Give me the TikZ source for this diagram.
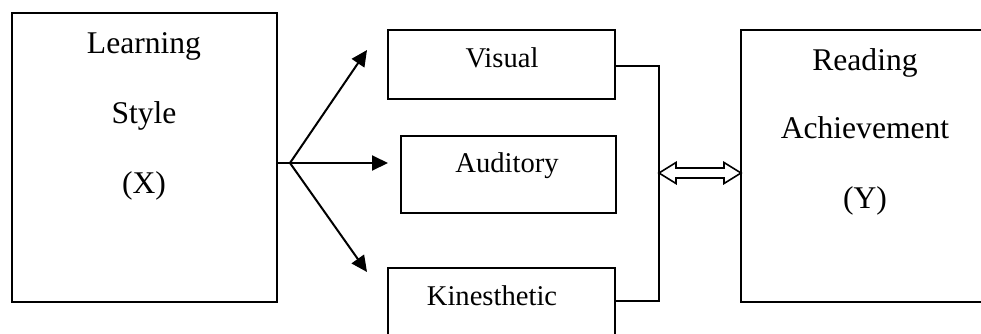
\documentclass[tikz,border=0pt]{standalone}
\usepackage{fontspec}
\setmainfont{Liberation Serif}
\usetikzlibrary{arrows.meta,calc}
\begin{document}
\begin{tikzpicture}[x=0.5pt,y=-0.5pt,
  box/.style={draw,line width=1pt,inner sep=0pt,outer sep=0pt},
  big/.style={anchor=base,inner sep=0pt,font=\fontsize{15.8}{18}\selectfont},
  small/.style={anchor=base,inner sep=0pt,font=\fontsize{14.3}{17}\selectfont},
  link/.style={line width=1pt},
  arr/.style={line width=1pt,-{Triangle[length=8pt,width=7.5pt]}}]
\useasboundingbox (0,0) rectangle (981,333);
\clip (0,0) rectangle (981,333);
% boxes
\node[box,minimum width=132.5pt,minimum height=144.5pt] (X) at (144.5,157.5) {};
\node[box,minimum width=130pt,minimum height=136pt] (Y) at (871,166) {};
\node[box,minimum width=113.5pt,minimum height=34.5pt] (V) at (501.5,64.5) {};
\node[box,minimum width=107.5pt,minimum height=38.5pt] (A) at (508.5,174.5) {};
\node[box,minimum width=113.5pt,minimum height=45pt] (K) at (501.5,313) {};
% texts
\node[big] (x1) at (144,53) {Learning};
\node[big] (x2) at (144,123) {Style};
\node[big] (x3) at (144,193) {(X)};
\node[big] (y1) at (865,70) {Reading};
\node[big] (y2) at (865,138) {Achievement};
\node[big] (y3) at (865,208) {(Y)};
\node[small] (vt) at (502,67) {Visual};
\node[small] (at) at (507,172) {Auditory};
\node[small] (kt) at (492,305) {Kinesthetic};
% branching arrows
\coordinate (B) at (290,163);
\coordinate (tV) at (367,50);
\coordinate (tA) at (388,163);
\coordinate (tK) at (367,272);
\draw[link] (X.east |- B) -- (B);
\draw[arr] (B) -- (tV);
\draw[arr] (B) -- (tA);
\draw[arr] (B) -- (tK);
% bracket
\coordinate (kEnd) at ($(K.north east)+(0,33)$);
\coordinate (vEnd) at ($(V.east)+(0,1.5)$);
\draw[link] (vEnd) -- ++(44,0) |- (kEnd);
% hollow double arrow
\coordinate (L) at (659,173);
\coordinate (R) at (741,173);
\draw[line width=0.8pt,fill=white,line join=miter] (L) -- ($(L)+(17,-10.5)$) -- ($(L)+(17,-5)$)
  -- ($(R)+(-17,-5)$) -- ($(R)+(-17,-10.5)$) -- (R) -- ($(R)+(-17,10.5)$) -- ($(R)+(-17,5)$)
  -- ($(L)+(17,5)$) -- ($(L)+(17,10.5)$) -- cycle;
\end{tikzpicture}
\end{document}
